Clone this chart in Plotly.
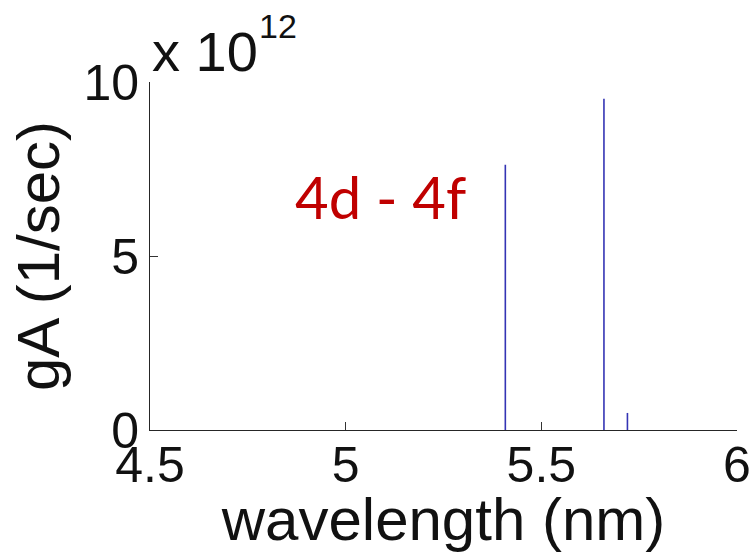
import plotly.graph_objects as go

# Line positions (nm) and weighted transition rates gA (1/sec)
wavelength_nm = [5.408, 5.660, 5.720]
gA_per_sec = [7.62e12, 9.52e12, 0.49e12]
scale_exp = 12

x_ticks = [4.5, 5, 5.5, 6]
x_tick_labels = ["4.5", "5", "5.5", "6"]
y_ticks = [0, 5, 10]
y_tick_labels = ["0", "5", "10"]

scale = 10 ** scale_exp

# Stick spectrum: one vertical segment per line, separated by gaps
xs, ys = [], []
for w, g in zip(wavelength_nm, gA_per_sec):
    xs += [w, w, None]
    ys += [0, g / scale, None]

fig = go.Figure()
fig.add_trace(go.Scatter(
    x=xs, y=ys, mode="lines",
    line=dict(color="#3434b4", width=1.6),
    showlegend=False, hoverinfo="skip",
))

sans = "Liberation Sans, Arial, sans-serif"
axis_font = dict(family=sans, size=50, color="#111111")
title_font = dict(family=sans, size=60, color="#111111")

fig.update_layout(
    width=753, height=553,
    margin=dict(l=150, r=16, t=82, b=123, autoexpand=False),
    paper_bgcolor="white", plot_bgcolor="white",
    xaxis=dict(
        range=[4.5, 6], tickvals=x_ticks, ticktext=x_tick_labels,
        ticks="inside", ticklen=8, tickcolor="#333333", tickwidth=1,
        showline=True, linecolor="#262626", linewidth=1,
        showgrid=False, zeroline=False, tickfont=axis_font,
        ticklabelstandoff=-9,
        title=dict(text="wavelength (nm)", font=title_font, standoff=10),
    ),
    yaxis=dict(
        range=[0, 10], tickvals=y_ticks, ticktext=y_tick_labels,
        ticks="inside", ticklen=8, tickcolor="#333333", tickwidth=1,
        showline=True, linecolor="#262626", linewidth=1,
        showgrid=False, zeroline=False, tickfont=axis_font,
        title=dict(text="gA (1/sec)", font=title_font, standoff=4),
    ),
    annotations=[
        # axis multiplier "x 10^12"
        dict(
            text="x 10",
            xref="paper", yref="paper", x=0.0, y=0.99,
            xanchor="left", yanchor="bottom", showarrow=False,
            font=dict(family=sans, size=56, color="#111111"),
        ),
        dict(
            text=str(scale_exp),
            xref="paper", yref="paper", x=0.182, y=1.10,
            xanchor="left", yanchor="bottom", showarrow=False,
            font=dict(family=sans, size=34, color="#111111"),
        ),
        dict(
            text="4d - 4f",
            xref="paper", yref="paper", x=0.3927, y=0.672,
            xanchor="center", yanchor="middle", showarrow=False,
            font=dict(family="Lato, sans-serif", size=58, color="#C00000"),
        ),
    ],
)

fig.write_html("out.html")
